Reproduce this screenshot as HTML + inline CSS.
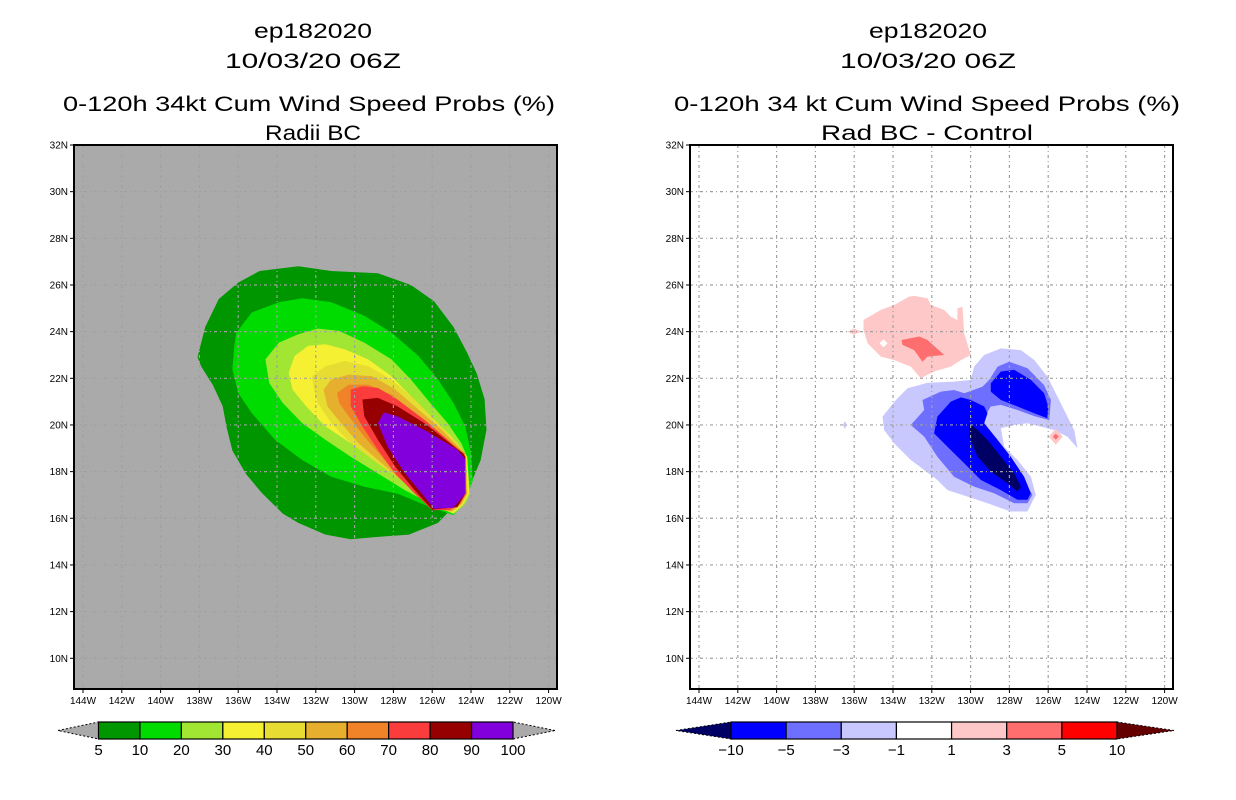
<!DOCTYPE html>
<html><head><meta charset="utf-8"><style>
html,body{margin:0;padding:0;background:#fff;width:1236px;height:800px;overflow:hidden}
svg{display:block;font-family:"Liberation Sans",sans-serif}
</style></head><body>
<svg id="root" width="1236" height="800" viewBox="0 0 1236 800" xmlns="http://www.w3.org/2000/svg">
<g font-size="21" text-anchor="middle" fill="#000">
<text x="313" y="38" textLength="118" lengthAdjust="spacingAndGlyphs">ep182020</text>
<text x="313" y="68" textLength="176" lengthAdjust="spacingAndGlyphs">10/03/20 06Z</text>
<text x="309" y="111" textLength="492" lengthAdjust="spacingAndGlyphs">0-120h 34kt Cum Wind Speed Probs (%)</text>
<text x="313" y="140" textLength="96" lengthAdjust="spacingAndGlyphs">Radii BC</text>
</g>
<g font-size="21" text-anchor="middle" fill="#000">
<text x="928" y="38" textLength="118" lengthAdjust="spacingAndGlyphs">ep182020</text>
<text x="928" y="68" textLength="176" lengthAdjust="spacingAndGlyphs">10/03/20 06Z</text>
<text x="927" y="111" textLength="506" lengthAdjust="spacingAndGlyphs">0-120h 34 kt Cum Wind Speed Probs (%)</text>
<text x="927" y="140" textLength="212" lengthAdjust="spacingAndGlyphs">Rad BC - Control</text>
</g>
<g id="leftmap"></g>
<g id="rightmap"></g>
<g id="leftbar"></g>
<g id="rightbar"></g>
</svg>
<script>
const NS="http://www.w3.org/2000/svg";
const lonTicks=[144,142,140,138,136,134,132,130,128,126,124,122,120];
const latTicks=[32,30,28,26,24,22,20,18,16,14,12,10];
const lonLabels=["144W","142W","140W","138W","136W","134W","132W","130W","128W","126W","124W","122W","120W"];
const latLabels=["32N","30N","28N","26N","24N","22N","20N","18N","16N","14N","12N","10N"];

// Left contours (lon W, lat N)
const leftLevels=[5,10,20,30,40,50,60,70,80,90];
const leftColors=["#009600","#00dc00","#a0e632","#f5f032","#e6dc32","#e6af2d","#f08228","#fa3c3c","#960000","#8200dc"];
const c5Lon=[134.9,132.9,131.2,128.8,127.1,125.9,124.9,124.2,123.7,123.3,123.2,123.5,124.0,124.9,125.7,127.2,128.8,130.2,131.5,132.9,133.7,134.8,135.6,136.3,136.6,136.8,137.3,137.9,138.1,137.7,137.0,136.0];
const c5Lat=[26.6,26.8,26.6,26.5,26.0,25.3,24.2,23.1,22.2,21.1,19.8,18.5,17.5,16.5,15.8,15.3,15.2,15.1,15.3,15.8,16.2,17.1,17.9,18.9,19.9,20.8,21.7,22.5,22.9,24.2,25.4,26.1];
const c10Lon=[136.1,135.3,133.9,132.7,131.2,129.5,128.1,126.7,125.7,124.9,124.3,124.0,123.9,124.3,124.9,126.1,127.8,129.5,131.2,132.7,134.1,135.3,136.0,136.3,136.2];
const c10Lat=[23.96,24.82,25.26,25.43,25.26,24.68,23.96,22.95,21.95,20.94,19.94,18.78,17.63,16.7,16.13,16.48,17.06,17.35,17.78,18.5,19.36,20.51,21.37,22.38,23.39];
const c20Lon=[134.6,133.9,132.9,131.9,130.8,129.5,128.1,127.1,126.1,125.2,124.5,124.2,124.05,124.3,124.9,126.1,127.4,128.8,130.2,131.5,132.7,133.7,134.4];
const c20Lat=[22.81,23.53,23.89,24.13,24.03,23.53,22.81,21.95,20.94,20.08,19.22,18.64,17.06,16.6,16.18,16.62,17.2,17.92,18.64,19.36,20.08,20.94,21.8];
const c30Lon=[133.4,133.1,132.4,131.5,130.5,129.3,128.1,127.1,126.1,125.0,124.2,124.1,124.4,124.9,125.7,126.6,127.6,128.8,130.2,131.5,132.5,133.2];
const c30Lat=[22.23,22.95,23.39,23.46,23.24,22.81,22.09,21.23,20.37,19.5,18.64,17.06,16.6,16.22,16.48,17.06,17.78,18.5,19.22,19.94,20.8,21.52];
const c40Lon=[132.2,131.5,130.5,129.3,128.1,126.9,125.7,124.7,124.25,124.15,124.45,124.95,125.7,126.6,127.6,128.8,130.2,131.2,131.9,132.1];
const c40Lat=[22.09,22.52,22.74,22.52,21.95,21.09,20.08,19.22,18.64,17.06,16.6,16.26,16.41,16.92,17.63,18.35,19.22,20.08,20.94,21.52];
const c50Lon=[131.6,131.2,130.3,129.1,127.9,126.7,125.5,124.5,124.25,124.2,124.5,125.0,125.9,126.7,127.8,128.8,129.8,130.7,131.4];
const c50Lat=[21.52,21.95,22.16,22.09,21.52,20.65,19.79,18.93,18.64,17.06,16.6,16.3,16.41,17.06,17.78,18.5,19.22,20.08,20.8];
const c60Lon=[130.9,130.3,129.3,128.1,126.7,125.4,124.3,124.25,124.55,125.05,125.9,126.7,127.8,128.6,129.5,130.3,130.8];
const c60Lat=[21.37,21.73,21.73,21.3,20.37,19.5,18.78,17.06,16.6,16.33,16.37,16.99,17.78,18.64,19.5,20.37,20.94];
const c70Lon=[130.2,129.6,128.8,127.8,126.4,125.2,124.3,124.25,124.6,125.1,126.0,126.9,127.9,128.8,129.6,130.2];
const c70Lat=[21.52,21.66,21.59,21.09,20.22,19.36,18.64,17.06,16.6,16.36,16.34,17.06,17.92,18.93,19.94,20.8];
const c80Lon=[129.6,128.8,127.8,126.4,125.2,124.4,124.3,124.3,124.7,126.0,126.9,127.9,128.8,129.5];
const c80Lat=[21.09,21.16,20.8,20.08,19.29,18.78,18.64,17.06,16.48,16.37,17.2,18.21,19.36,20.37];
const c90Lon=[128.5,127.8,126.4,125.4,124.7,124.3,124.3,124.9,125.9,126.4,127.4,128.3,128.8];
const c90Lat=[20.54,20.37,19.79,19.29,18.93,18.53,17.06,16.45,16.41,16.92,17.92,19.07,20.08];
const leftLon=[c5Lon,c10Lon,c20Lon,c30Lon,c40Lon,c50Lon,c60Lon,c70Lon,c80Lon,c90Lon];
const leftLat=[c5Lat,c10Lat,c20Lat,c30Lat,c40Lat,c50Lat,c60Lat,c70Lat,c80Lat,c90Lat];

// Right difference contours
const rightLevels=["-10","-5","-3","-1","1","3","5","10"];
const rightColors=["#000064","#0000ff","#6e6eff","#c8c8ff","#ffffff","#ffc8c8","#ff6e6e","#ff0000","#640000"];
const pinkLon=[135.52,134.63,133.94,133.17,132.91,132.22,132.05,131.36,131.02,130.68,130.68,130.42,130.33,129.99,130.50,131.02,131.88,132.57,133.08,133.94,134.63,135.31,135.52];
const pinkLat=[24.50,24.93,25.14,25.50,25.53,25.43,25.14,24.93,24.64,24.50,25.0,25.07,23.93,23.0,22.78,22.50,22.29,22.00,22.50,22.78,22.93,23.50,24.07];
const redLon=[133.56,132.65,132.22,131.36,132.22,132.48,132.91,133.51];
const redLat=[23.64,23.79,23.64,23.0,22.93,22.71,23.21,23.43];
const ltLon=[134.54,133.85,133.25,132.22,130.85,129.99,129.82,129.30,128.44,127.41,126.72,126.04,125.52,125.01,124.66,124.49,125.01,125.69,126.38,127.07,127.75,128.44,128.27,127.58,126.89,126.64,127.07,127.93,129.13,130.16,131.19,131.71,132.39,133.08,133.94,134.46];
const ltLat=[20.36,21.07,21.57,21.81,21.86,21.93,22.50,23.0,23.28,23.21,22.79,22.07,21.21,20.36,19.78,19.0,19.50,19.78,19.93,20.07,20.0,19.86,19.07,18.5,17.78,17.0,16.29,16.29,16.64,16.93,17.21,17.64,18.07,18.50,19.21,19.78];
const midLon=[133.08,132.39,132.48,131.53,130.85,130.33,129.39,129.04,128.61,128.01,127.07,126.21,125.86,125.95,126.72,127.58,128.44,128.96,129.22,129.30,128.79,128.10,127.41,126.81,127.07,127.75,128.79,129.82,130.85,131.71,132.39];
const midLat=[20.0,20.64,21.07,21.43,21.50,21.36,21.64,21.93,22.50,22.71,22.43,21.71,21.07,20.21,20.38,20.64,20.86,20.79,20.43,20.07,19.36,18.64,17.78,17.0,16.64,16.64,17.07,17.36,17.78,18.64,19.50];
const bluUpLon=[128.96,128.44,127.75,126.89,126.21,126.00,126.04,126.72,127.58,128.44,128.96];
const bluUpLat=[21.78,22.29,22.36,21.93,21.36,20.79,20.29,20.50,20.79,21.07,21.43];
const bluLoLon=[131.88,131.71,131.02,130.50,129.99,129.30,129.13,129.30,128.61,127.93,127.24,126.89,127.07,127.58,128.44,129.47,130.33,131.19];
const bluLoLat=[19.64,20.36,21.0,21.18,21.07,20.79,20.50,20.07,19.36,18.64,17.78,17.07,16.79,16.79,17.21,17.64,18.36,19.07];
const navyLon=[130.07,129.82,129.13,128.44,127.75,127.41,127.58,128.10,128.96,129.64,130.07];
const navyLat=[20.07,19.93,19.36,18.64,17.93,17.36,17.14,17.50,18.0,18.64,19.50];
const dotLon=[136.0,134.49,136.48,125.61];
const dotLat=[24.0,23.5,20.0,19.5];

function mk(tag,attrs,parent){const e=document.createElementNS(NS,tag);for(const k in attrs)e.setAttribute(k,attrs[k]);parent.appendChild(e);return e;}

function makeMap(g,x0,bg,lonArrs,latArrs,colors,names){
  const X=w=>x0+9+(144-w)*19.4;
  const Y=l=>145+(32-l)*23.33;
  const L=x0,T=145,R=x0+483,B=689;
  const cp=mk('clipPath',{id:'cp'+x0},g);
  mk('rect',{x:L,y:T,width:R-L,height:B-T},cp);
  const bgR=mk('rect',{x:L,y:T,width:R-L,height:B-T,fill:bg},g);
  
  
  const cg=mk('g',{'clip-path':'url(#cp'+x0+')'},g);
  for(let i=0;i<lonArrs.length;i++){
    const pts=lonArrs[i].map((w,j)=>X(w).toFixed(1)+','+Y(latArrs[i][j]).toFixed(1)).join(' ');
    const p=mk('polygon',{points:pts,fill:colors[i],'stroke-linejoin':'round'},cg);
    
    
  }
  return {X,Y,L,T,R,B,cg};
}
function gridAxes(g,m){
  const gg=mk('g',{stroke:'#a0a0a0','stroke-width':1.2,'stroke-dasharray':'3,3,1,3'},g);
  
  
  lonTicks.forEach(w=>{const x=m.X(w);if(x>m.L+2&&x<m.R-2)mk('line',{x1:x,y1:m.T,x2:x,y2:m.B},gg);});
  latTicks.forEach(l=>{const y=m.Y(l);if(y>m.T+2&&y<m.B-2)mk('line',{x1:m.L,y1:y,x2:m.R,y2:y},gg);});
  const fr=mk('rect',{x:m.L,y:m.T,width:m.R-m.L,height:m.B-m.T,fill:'none',stroke:'#000','stroke-width':2},g);
  
  
  lonTicks.forEach((w,i)=>{const x=m.X(w);
    mk('line',{x1:x,y1:m.B,x2:x,y2:m.B+4,stroke:'#000'},g);
    const t=mk('text',{x:x,y:m.B+15,'font-size':10,'text-anchor':'middle'},g);t.textContent=lonLabels[i];
    
    
  });
  latTicks.forEach((l,i)=>{const y=m.Y(l);
    mk('line',{x1:m.L-4,y1:y,x2:m.L,y2:y,stroke:'#000'},g);
    const t=mk('text',{x:m.L-6,y:y+3.5,'font-size':10,'text-anchor':'end'},g);t.textContent=latLabels[i];
    
    
  });
}
// left map
const lg=document.getElementById('leftmap');
const lm=makeMap(lg,74,'#aaaaaa',leftLon,leftLat,leftColors,leftLevels.map(v=>'contour-'+v+'pct'));
gridAxes(lg,lm);
// right map
const rg=document.getElementById('rightmap');
const rLon=[pinkLon,redLon,ltLon,midLon,bluUpLon,bluLoLon,navyLon];
const rLat=[pinkLat,redLat,ltLat,midLat,bluUpLat,bluLoLat,navyLat];
const rCol=["#ffc8c8","#ff6e6e","#c8c8ff","#6e6eff","#0000ff","#0000ff","#000064"];
const rNames=["positive-1-3","positive-3-5","negative-1-3","negative-3-5","negative-5-10-north","negative-5-10-south","negative-below-10"];
const rm=makeMap(rg,690,'#ffffff',rLon,rLat,rCol,rNames);
const dotCol=["#ffc8c8","#ffffff","#c8c8ff","#ffc8c8"];
const dotRx=[7,4,2,7];const dotRy=[3,4,4,8];
dotLon.forEach((w,i)=>{const x=rm.X(w),y=rm.Y(dotLat[i]);
  const d=mk('polygon',{points:`${x-dotRx[i]},${y} ${x},${y-dotRy[i]} ${x+dotRx[i]},${y} ${x},${y+dotRy[i]}`,fill:dotCol[i]},rm.cg);
  
  
});
{const x=rm.X(dotLon[3]),y=rm.Y(dotLat[3]);mk('polygon',{points:`${x-3},${y} ${x},${y-3} ${x+3},${y} ${x},${y+3}`,fill:'#ff6e6e'},rm.cg);}
gridAxes(rg,rm);

function colorbar(g,x0,x1,tipL,tipR,cols,labels,lc,rc){
  const y0=722,y1=739,ym=730.5,n=cols.length,w=(x1-x0)/n;
  const tl=mk('polygon',{points:`${tipL},${ym} ${x0},${y0} ${x0},${y1}`,fill:lc,stroke:'#000','stroke-width':1,'stroke-dasharray':'2,2'},g);
  
  
  const tr=mk('polygon',{points:`${tipR},${ym} ${x1},${y0} ${x1},${y1}`,fill:rc,stroke:'#000','stroke-width':1,'stroke-dasharray':'2,2'},g);
  
  
  cols.forEach((c,i)=>{const r=mk('rect',{x:x0+i*w,y:y0,width:w,height:y1-y0,fill:c,stroke:'#000','stroke-width':1.2},g);
    
    });
  labels.forEach((s,i)=>{const t=mk('text',{x:x0+i*w,y:755,'font-size':15,'text-anchor':'middle'},g);t.textContent=s;
    
    });
}
colorbar(document.getElementById('leftbar'),98.5,513,58,555,leftColors,["5","10","20","30","40","50","60","70","80","90","100"],'#aaaaaa','#aaaaaa');
colorbar(document.getElementById('rightbar'),731,1117,676,1174,rightColors.slice(1,8),rightLevels.map(s=>s.replace('-','\u2212')),rightColors[0],rightColors[8]);
</script>
</body></html>
